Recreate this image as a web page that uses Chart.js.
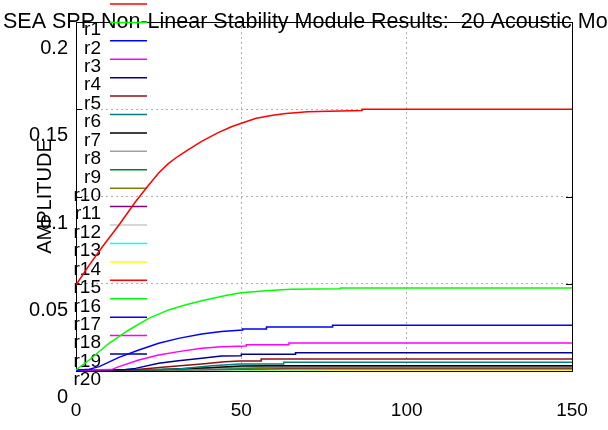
<!DOCTYPE html>
<html>
<head>
<meta charset="utf-8">
<script src="https://cdn.jsdelivr.net/npm/chart.js@4.4.1/dist/chart.umd.min.js"></script>
<style>
    html, body { margin: 0; padding: 0; background: #fff; }
    #wrap { width: 608px; height: 430px; }
</style>
</head>
<body>
<div id="wrap"><canvas id="stabilityChart" width="608" height="430"></canvas></div>
<script>
    // amplitude history per mode, [time, amplitude]
    const r1 = [[0, 0.0493], [4, 0.0607], [8, 0.0712], [13, 0.0837], [18, 0.097], [22, 0.1066], [25, 0.1135], [28, 0.119], [31, 0.1232], [34, 0.1268], [38, 0.1316], [43, 0.1366], [47, 0.14], [50, 0.142], [54.5, 0.1448], [59.5, 0.1465], [63.5, 0.1475], [70, 0.1485], [86.5, 0.1493], [86.5, 0.15], [150, 0.15]];
    const r2 = [[0, 0.0006], [4, 0.0063], [10, 0.0159], [16, 0.0235], [22, 0.0302], [28, 0.035], [33, 0.0378], [38, 0.0402], [46, 0.0436], [50, 0.0448], [58.5, 0.0462], [65, 0.0468], [80, 0.0472], [80, 0.0476], [150, 0.0476]];
    const r3 = [[0, 0.0005], [4, 0.001], [7, 0.0025], [13, 0.0078], [19, 0.012], [25, 0.0159], [31, 0.0187], [38, 0.0212], [44, 0.0227], [50.4, 0.0235], [50.4, 0.0241], [57.6, 0.0241], [57.6, 0.0252], [77.6, 0.0252], [77.6, 0.0262], [150, 0.0262]];
    const r4 = [[0, 0.0005], [10.7, 0.0008], [13, 0.0025], [19, 0.0063], [25, 0.0092], [31, 0.0111], [38, 0.013], [44, 0.0139], [51.5, 0.0143], [51.5, 0.0151], [64.4, 0.0151], [64.4, 0.016], [150, 0.016]];
    const r5 = [[0, 0.0005], [15, 0.0008], [18, 0.0015], [25, 0.0044], [31, 0.0059], [38, 0.0073], [44, 0.0086], [50, 0.0088], [50, 0.0096], [66.4, 0.0096], [66.4, 0.0105], [150, 0.0105]];
    const r6 = [[0, 0.0005], [18.6, 0.0008], [26, 0.0021], [38, 0.004], [45, 0.0053], [49.5, 0.0057], [56, 0.0057], [56, 0.0069], [150, 0.0069]];
    const r7 = [[0, 0.0005], [22.5, 0.0008], [31, 0.0012], [41, 0.003], [49.5, 0.004], [62.8, 0.004], [62.8, 0.005], [150, 0.005]];
    const r8 = [[0, 0.0005], [26, 0.0008], [40, 0.0019], [50, 0.0028], [58, 0.003], [150, 0.003]];
    const r9 = [[0, 0.0005], [29.5, 0.0008], [42, 0.0016], [55, 0.0025], [150, 0.0025]];
    const r10 = [[0, 0.0005], [33, 0.0008], [45, 0.0014], [58, 0.0021], [150, 0.0021]];
    const r11 = [[0, 0.0005], [37, 0.0008], [50, 0.0013], [62, 0.0018], [150, 0.0018]];
    const r12 = [[0, 0.0005], [42.5, 0.0008], [54, 0.0012], [65, 0.0015], [150, 0.0015]];
    const r13 = [[0, 0.0005], [50.6, 0.0008], [60, 0.0011], [70, 0.0013], [150, 0.0013]];
    const r14 = [[0, 0.0005], [70.6, 0.0008], [80, 0.001], [150, 0.001]];
    const r15 = [[0, 0.0005], [150, 0.0005]];
    const r16 = [[0, 0], [150, 0]];
    const r17 = [[0, 0], [150, 0]];
    const r18 = [[0, 0], [150, 0]];
    const r19 = [[0, 0], [150, 0]];
    const r20 = [[0, 0], [150, 0]];

    const modeNames = ['r1', 'r2', 'r3', 'r4', 'r5', 'r6', 'r7', 'r8', 'r9', 'r10',
        'r11', 'r12', 'r13', 'r14', 'r15', 'r16', 'r17', 'r18', 'r19', 'r20'];
    const modeSeries = [r1, r2, r3, r4, r5, r6, r7, r8, r9, r10,
        r11, r12, r13, r14, r15, r16, r17, r18, r19, r20];
    const xTicks = [0, 50, 100, 150];
    const yTicks = [0, 0.05, 0.1, 0.15, 0.2];
    const chartTitle = 'SEA SPP Non-Linear Stability Module Results:  20 Acoustic Modes';

    const palette = ['#ff0000', '#00ff00', '#0000ff', '#ff00ff', '#000090', '#901010', '#008080',
        '#000000', '#a0a0a0', '#008040', '#808000', '#800080', '#c8c8c8', '#00ffff', '#ffff00'];

    const FONT = 'Liberation Sans, Arial, sans-serif';

    // title, frame, inward ticks and key are drawn by hand, gnuplot style
    const framePlugin = {
        id: 'frame',
        beforeDatasetsDraw(chart) {
            const { ctx, chartArea: a } = chart;
            const yScale = chart.scales.y;
            ctx.save();
            ctx.strokeStyle = '#000';
            ctx.lineWidth = 1;
            ctx.strokeRect(a.left + 0.5, a.top + 0.5, a.right - a.left, a.bottom - a.top);

            ctx.beginPath();
            yTicks.forEach(v => {
                const py = Math.round(yScale.getPixelForValue(v)) + 0.5;
                ctx.moveTo(a.left, py);
                ctx.lineTo(a.left + 6, py);
                ctx.moveTo(a.right, py);
                ctx.lineTo(a.right - 6, py);
            });
            ctx.stroke();

            ctx.font = '21.5px ' + FONT;
            ctx.fillStyle = '#000';
            ctx.textAlign = 'left';
            ctx.textBaseline = 'alphabetic';
            ctx.fillText(chartTitle, 3, 28);

            ctx.font = '19px ' + FONT;
            ctx.textAlign = 'right';
            ctx.textBaseline = 'middle';
            chart.data.datasets.forEach((ds, i) => {
                ctx.fillStyle = '#000';
                ctx.fillText(ds.label, 101, 30 + 18.42 * i);
                ctx.strokeStyle = ds.borderColor;
                ctx.lineWidth = 1.5;
                ctx.beginPath();
                ctx.moveTo(110, 4 + 18.42 * i);
                ctx.lineTo(147, 4 + 18.42 * i);
                ctx.stroke();
            });
            ctx.restore();
        }
    };

    const datasets = modeSeries.map((series, i) => ({
        label: modeNames[i],
        data: series.map(([x, y]) => ({ x, y })),
        borderColor: palette[i % palette.length],
        borderWidth: 1.5,
        pointRadius: 0,
        tension: 0,
        fill: false,
        // r20 sits above the other zero modes along the floor
        order: i < 15 ? 0 : (i === 19 ? 1 : 2)
    }));

    const gridStyle = {
        color: '#b0b0b0',
        lineWidth: 1,
        drawTicks: false
    };

    new Chart(document.getElementById('stabilityChart'), {
        type: 'line',
        data: { datasets },
        plugins: [framePlugin],
        options: {
            responsive: false,
            animation: false,
            events: [],
            layout: { padding: { top: 22, right: 36, left: 0, bottom: 0 } },
            plugins: {
                legend: { display: false },
                tooltip: { enabled: false },
                title: { display: false }
            },
            scales: {
                x: {
                    type: 'linear',
                    min: 0,
                    max: 150,
                    afterBuildTicks: axis => { axis.ticks = xTicks.map(v => ({ value: v })); },
                    afterFit: axis => {
                        axis.height = 59;
                        axis.paddingLeft = 0;
                        axis.paddingRight = 0;
                    },
                    grid: gridStyle,
                    border: { display: false, dash: [2, 3] },
                    ticks: {
                        color: '#000',
                        padding: 28,
                        maxRotation: 0,
                        autoSkip: false,
                        font: { family: FONT, size: 19 }
                    }
                },
                y: {
                    min: 0,
                    max: 0.2,
                    afterBuildTicks: axis => { axis.ticks = yTicks.map(v => ({ value: v })); },
                    afterFit: axis => {
                        axis.width = 76;
                        axis.paddingTop = 0;
                        axis.paddingBottom = 0;
                    },
                    grid: gridStyle,
                    border: { display: false, dash: [2, 3] },
                    title: {
                        display: true,
                        text: 'AMPLITUDE',
                        color: '#000',
                        font: { family: FONT, size: 20 },
                        padding: { top: 33, bottom: 0 }
                    },
                    ticks: {
                        color: '#000',
                        padding: 8,
                        labelOffset: 26.5,
                        autoSkip: false,
                        font: { family: FONT, size: 20 },
                        callback: v => String(+v.toFixed(2))
                    }
                }
            }
        }
    });
</script>
</body>
</html>
